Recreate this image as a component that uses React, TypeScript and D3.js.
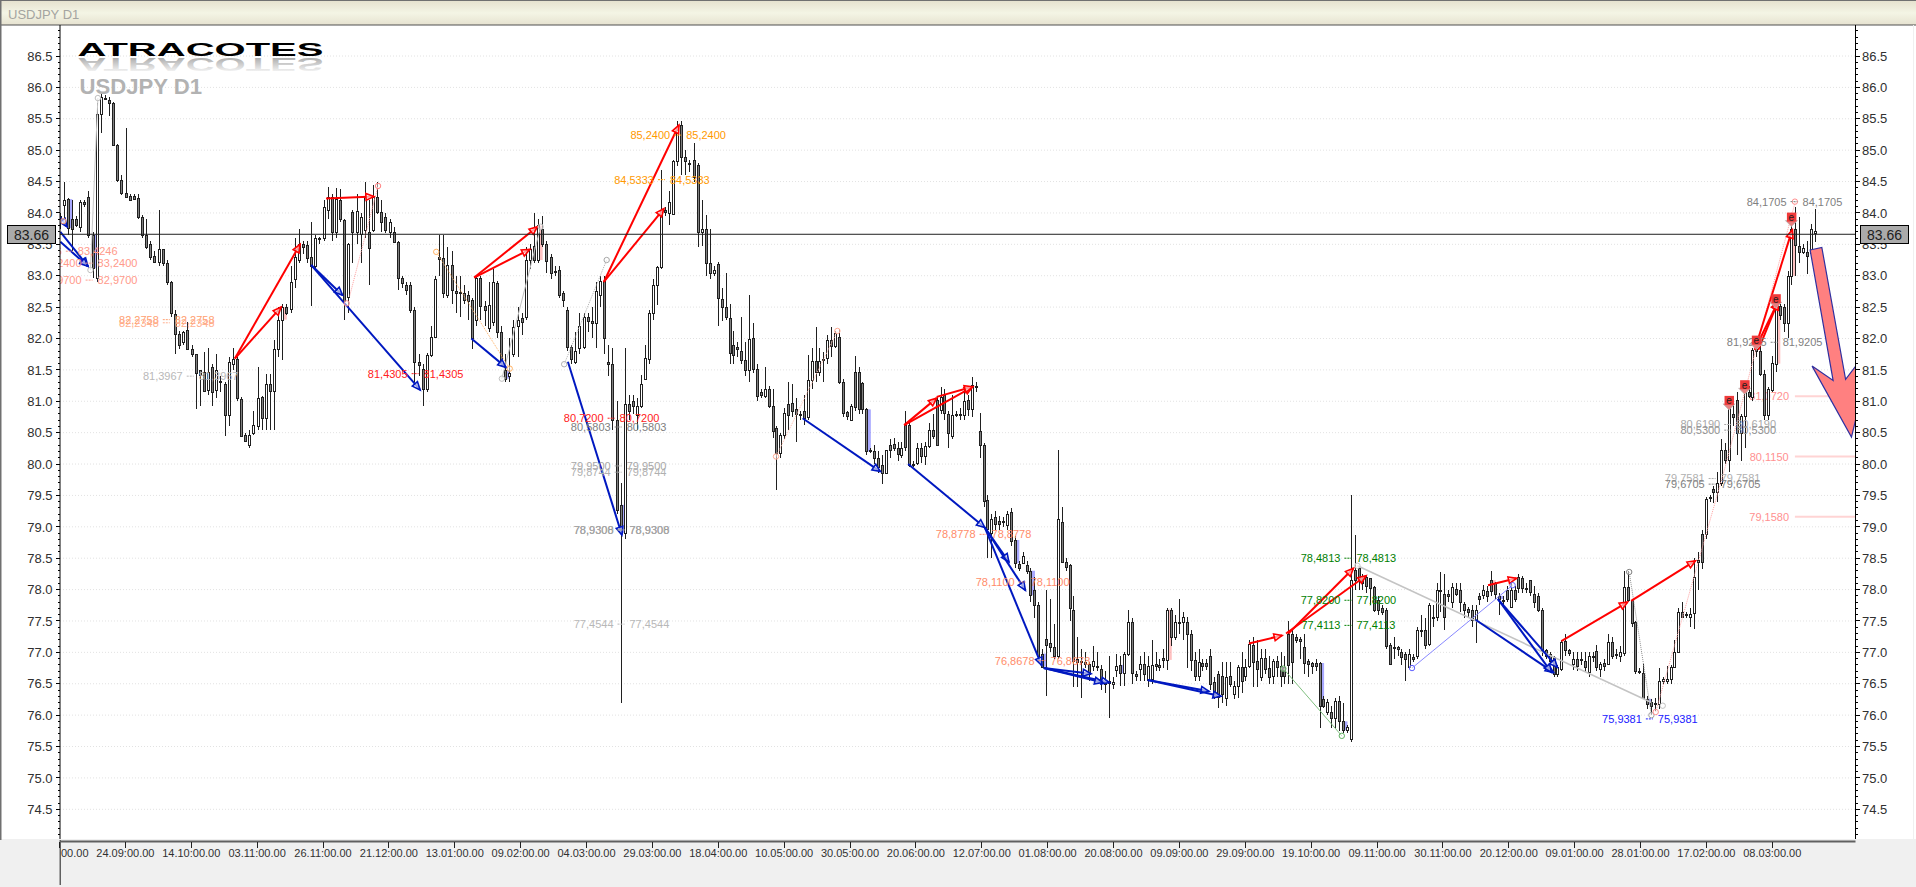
import React from "react";
import * as d3 from "d3";

const tickLabels = ["00.00","24.09:00.00","14.10:00.00","03.11:00.00","26.11:00.00","21.12:00.00","13.01:00.00","09.02:00.00","04.03:00.00","29.03:00.00","18.04:00.00","10.05:00.00","30.05:00.00","20.06:00.00","12.07:00.00","01.08:00.00","20.08:00.00","09.09:00.00","29.09:00.00","19.10:00.00","09.11:00.00","30.11:00.00","20.12:00.00","09.01:00.00","28.01:00.00","17.02:00.00","08.03:00.00"];
const lastPrice = 83.66;

const opens = [
83.95,84.12,84.22,83.9,83.9,83.78,84.17,84.25,83.65,82.97,
85.58,85.83,85.8,85.75,85.09,84.52,84.32,84.27,84.27,84.23,
83.93,83.65,83.5,83.31,83.22,83.42,83.2,82.9,82.39,82.07,
81.95,82.13,81.84,81.75,81.5,81.47,81.18,81.55,81.18,81.33,
81.27,80.78,81.6,81.68,81.03,80.47,80.3,80.49,80.6,81.06,
80.74,81.27,81.17,81.83,82.3,82.5,82.47,82.95,83.25,83.5,
83.49,83.3,83.15,83.6,83.6,84.05,84.25,83.7,84.2,83.88,
82.66,84.02,83.7,83.67,83.73,83.7,83.73,84.26,84.02,83.94,
83.7,83.7,83.54,82.96,82.85,82.85,82.46,81.63,81.52,81.2,
81.74,82.03,83.3,83.28,82.7,83.17,82.75,82.72,82.72,82.69,
82.61,82.3,82.97,82.52,82.16,82.27,82.89,82.11,81.5,81.4,
81.76,82.2,82.32,82.35,83.25,83.47,83.25,83.75,83.5,83.3,
83.08,83.09,82.72,82.46,81.87,81.62,81.85,81.86,82.35,82.28,
82.25,82.7,82.92,81.63,81.6,80.7,79.35,78.9,80.95,81.0,
80.78,80.92,81.36,81.68,82.4,82.85,83.14,84.05,84.0,83.99,
84.82,85.4,84.89,84.8,84.84,84.76,83.7,83.75,83.2,83.05,
83.19,82.63,82.5,82.32,81.9,81.87,81.8,81.66,81.5,82.0,
81.51,81.15,81.08,81.19,80.92,80.57,80.17,80.46,80.96,80.98,
80.87,80.8,80.85,80.75,81.34,81.64,81.46,81.68,81.69,81.97,
81.88,82.02,81.31,80.83,80.7,81.47,81.47,81.29,80.87,80.23,
80.2,80.1,79.98,79.86,80.3,80.32,80.25,80.15,80.62,80.62,
80.0,80.02,80.25,80.13,80.28,80.55,81.02,80.86,81.1,80.8,
80.45,80.8,80.8,80.78,81.02,80.88,81.24,80.52,80.31,79.43,
78.9,79.16,79.1,79.1,79.03,79.23,78.79,78.4,78.43,78.39,
78.3,77.99,77.75,76.98,77.22,77.15,77.08,76.95,79.08,78.44,
78.39,77.68,76.9,76.87,76.84,76.82,76.79,76.79,76.74,76.54,
76.54,76.5,76.72,76.8,76.67,76.98,77.48,76.66,76.74,76.82,
76.56,76.58,76.82,76.8,76.91,76.88,77.68,77.25,77.49,77.48,
77.48,77.3,76.88,76.62,76.83,76.83,76.95,76.53,76.65,76.63,
76.28,76.62,76.34,76.47,76.77,76.63,76.79,77.11,76.87,76.6,
76.91,76.75,76.63,76.86,76.79,76.77,77.3,77.3,77.25,77.22,
77.09,76.86,76.83,76.83,76.83,76.26,76.05,76.05,75.96,76.23,
75.9,75.76,75.62,78.31,78.34,78.17,78.2,78.18,78.04,77.83,
77.7,77.67,77.11,77.09,77.08,77.0,76.97,76.77,76.92,76.95,
77.35,77.35,77.13,77.56,77.56,77.99,77.93,77.93,77.8,78.01,
77.99,77.77,77.69,77.67,77.51,77.9,77.91,77.98,78.15,78.1,
77.9,77.84,77.99,77.72,77.99,78.2,78.18,78.03,78.15,77.93,
77.9,77.67,77.03,76.97,76.92,76.66,76.74,77.18,77.03,76.82,
76.9,76.9,76.87,76.69,76.95,77.02,76.74,76.83,76.81,77.16,
76.98,76.95,76.99,78.04,77.83,77.48,76.71,76.67,76.26,76.21,
76.2,76.18,76.55,76.55,76.58,76.77,77.0,77.64,77.61,77.56,
77.62,78.47,78.89,78.89,79.47,79.6,79.55,79.69,80.23,80.07,
80.8,81.02,80.49,80.77,81.15,81.07,81.83,81.8,81.44,80.78,
81.18,81.6,82.52,82.5,82.24,83.0,83.75,83.47,83.37,83.38,
83.36,83.68];
const highs = [
84.0,84.5,84.24,84.2,83.95,84.2,84.2,84.35,83.7,85.75,
85.9,85.88,85.85,85.77,85.1,84.6,85.35,84.3,84.3,84.3,
83.96,83.9,83.55,83.4,84.05,83.43,83.25,82.92,82.45,82.12,
82.12,82.27,81.9,81.76,81.5,81.78,81.85,81.6,81.75,81.4,
81.3,81.7,81.85,81.72,81.07,80.5,80.55,80.85,81.55,81.08,
81.43,81.43,81.98,82.5,82.55,82.55,83.15,83.6,83.75,83.55,
83.55,83.85,83.65,83.62,84.2,84.42,84.3,84.4,84.38,83.9,
83.52,84.05,84.3,84.0,84.5,84.2,84.45,84.5,84.2,84.0,
83.9,83.78,83.55,83.0,82.9,82.9,82.5,81.75,81.6,81.77,
82.2,83.0,83.65,83.65,83.46,83.4,83.0,83.0,82.85,82.75,
82.65,83.0,83.0,82.6,82.9,83.1,82.92,82.2,81.75,82.0,
82.3,82.5,82.4,83.46,83.5,84.0,83.9,83.95,83.55,83.35,
83.15,83.15,82.75,82.5,81.9,82.1,82.4,82.4,82.4,82.5,
82.9,83.0,83.0,81.9,81.85,81.0,79.7,81.85,81.1,81.1,
81.05,81.42,81.9,82.45,82.95,83.16,84.68,84.1,84.35,84.85,
85.46,85.46,85.0,84.85,85.12,84.8,84.2,83.96,83.75,83.15,
83.22,82.8,83.05,82.55,82.12,81.95,82.35,81.95,82.7,82.25,
81.6,81.2,81.55,81.25,81.2,80.6,80.5,80.9,81.3,81.27,
81.05,80.85,81.1,81.73,81.85,82.18,81.85,81.78,82.05,82.18,
82.12,82.15,81.35,80.85,80.95,81.72,81.55,81.3,80.9,80.25,
80.3,80.2,80.15,80.23,80.4,80.42,80.35,80.35,80.85,80.65,
80.05,80.33,80.33,80.35,80.66,80.8,81.07,81.22,81.2,80.85,
81.1,80.85,80.9,81.2,81.1,81.38,81.3,80.82,80.34,79.5,
79.2,79.25,79.17,79.15,79.25,79.3,78.85,78.45,78.6,78.45,
78.35,78.2,77.8,77.05,78.0,77.85,77.45,80.23,79.32,78.5,
78.41,77.9,77.25,77.05,77.0,76.85,77.1,77.0,76.8,76.7,
76.95,76.6,76.98,76.95,77.0,77.68,77.55,76.7,76.95,77.0,
76.95,77.2,77.0,76.9,77.05,77.7,77.7,77.6,77.85,77.65,
77.57,77.35,77.0,77.05,76.9,76.9,77.05,76.6,76.7,76.85,
76.85,76.85,76.55,76.8,77.0,76.9,77.2,77.25,77.2,77.05,
77.05,76.95,76.9,76.95,77.0,76.95,77.5,77.35,77.3,77.25,
77.3,76.9,76.85,76.9,76.85,76.3,76.25,76.15,76.27,76.3,
76.2,75.85,79.5,78.87,78.38,78.25,78.22,78.19,78.05,77.9,
77.75,77.7,77.15,77.25,77.1,77.05,77.0,77.05,76.98,77.4,
77.6,77.55,77.78,77.75,78.1,78.28,78.25,78.0,78.1,78.1,
78.1,77.8,77.72,77.75,77.75,77.95,78.07,78.05,78.3,78.12,
77.95,77.9,78.05,78.1,78.05,78.25,78.22,78.1,78.15,78.05,
77.95,77.7,77.05,77.0,76.95,76.8,77.2,77.3,77.05,77.0,
77.0,77.0,77.0,77.0,77.0,77.12,76.85,76.9,77.3,77.25,
77.05,77.1,78.3,78.3,77.85,77.5,76.75,76.82,76.3,76.25,
76.27,76.75,76.6,76.78,76.8,77.2,77.7,77.8,77.65,77.7,
78.5,78.6,78.95,79.47,79.5,79.65,79.88,80.4,80.33,80.95,
80.95,81.15,80.8,81.2,81.25,81.85,81.9,81.88,81.5,81.22,
81.72,82.55,82.55,82.55,83.08,84.0,84.1,83.93,83.5,83.55,
83.82,84.07];
const lows = [
83.75,83.9,83.65,83.4,83.78,83.7,84.1,83.6,82.97,82.9,
85.27,85.8,85.55,85.07,84.5,84.28,84.25,84.2,84.2,83.9,
83.6,83.42,83.25,83.2,83.15,83.15,82.85,82.35,81.75,81.83,
81.9,81.82,81.7,80.88,80.92,81.15,81.1,80.93,81.05,81.15,
80.44,80.6,81.5,81.0,80.44,80.35,80.25,80.47,80.55,80.55,
80.55,80.55,80.55,81.7,81.66,82.38,82.4,82.8,83.2,83.35,
83.2,82.52,83.1,83.5,83.55,83.9,83.55,83.6,83.85,82.3,
82.4,83.2,83.5,83.2,83.6,82.85,83.7,83.98,83.7,83.68,
83.6,83.52,82.78,82.8,82.7,82.4,81.3,81.4,80.93,81.15,
81.7,82.0,83.0,82.65,82.65,82.55,82.4,82.35,82.55,82.3,
81.83,82.2,82.3,82.2,82.1,82.2,82.0,81.6,81.3,81.3,
81.7,81.7,82.05,82.3,83.1,83.2,83.2,83.45,83.05,82.95,
83.0,82.65,82.5,81.8,81.6,81.6,81.75,81.83,82.1,82.0,
81.85,82.5,81.75,81.4,80.55,79.2,76.2,78.8,80.7,80.8,
80.55,80.9,81.35,81.6,82.3,82.53,83.1,83.95,83.8,83.98,
84.75,84.6,84.6,84.65,84.5,83.46,83.48,83.0,82.95,83.0,
82.2,82.28,82.3,81.6,81.6,81.7,81.6,81.4,81.3,81.45,
81.0,81.05,81.05,80.9,80.42,79.58,80.1,80.4,80.55,80.75,
80.35,80.7,80.62,80.7,81.2,81.3,81.4,81.3,81.6,81.7,
81.85,81.28,80.75,80.7,80.68,80.85,80.8,80.8,80.15,80.18,
80.0,79.85,79.68,79.85,80.1,80.2,80.05,80.1,80.2,79.95,
79.95,79.98,80.02,79.98,80.25,80.4,80.3,80.8,80.7,80.25,
80.4,80.75,80.7,80.7,80.77,80.75,81.15,80.1,79.32,78.5,
78.5,78.95,78.95,79.0,78.95,78.7,78.35,78.3,78.4,78.25,
77.8,77.55,76.85,76.75,76.3,77.0,76.9,76.9,78.42,78.3,
77.5,76.45,76.45,76.28,76.75,76.55,76.7,76.7,76.4,76.35,
75.95,76.42,76.6,76.47,76.47,76.95,76.5,76.55,76.55,76.55,
76.45,76.5,76.7,76.7,76.75,76.72,77.1,77.2,77.3,77.2,
76.75,76.7,76.55,76.55,76.7,76.72,76.4,76.25,76.12,76.2,
76.15,76.45,76.25,76.28,76.35,76.55,76.75,76.45,76.45,76.55,
76.65,76.5,76.5,76.6,76.45,76.5,76.5,76.5,77.15,76.9,
76.65,76.6,76.65,76.7,75.8,76.12,76.0,75.8,75.8,75.75,
75.72,75.72,75.58,78.0,78.0,78.0,77.95,77.75,77.65,77.6,
77.6,77.05,76.8,76.9,76.95,76.8,76.55,76.75,76.85,76.9,
77.25,77.05,77.1,77.4,77.5,77.65,77.35,77.8,77.7,77.9,
77.65,77.55,77.55,77.4,77.15,77.75,77.85,77.8,77.9,77.85,
77.6,77.7,77.8,77.7,77.8,77.95,77.95,77.95,77.9,77.7,
77.65,76.95,76.9,76.82,76.6,76.6,76.7,76.95,76.95,76.72,
76.7,76.8,76.68,76.6,76.85,76.7,76.6,76.7,76.8,76.9,
76.9,76.85,76.95,77.8,77.4,76.65,76.65,76.25,76.1,76.0,
76.07,76.1,76.5,76.5,76.5,76.75,76.99,77.55,77.55,77.4,
77.37,78.0,78.33,78.8,79.4,79.38,79.4,79.65,80.0,79.87,
80.6,80.15,80.05,80.25,81.05,81.0,81.7,81.4,80.7,80.7,
81.15,81.47,82.3,82.1,82.0,82.85,83.0,83.2,83.35,83.03,
83.35,83.53];
const closes = [
83.85,84.2,83.76,83.75,83.8,84.18,84.14,83.65,83.12,85.58,
85.85,85.82,85.75,85.09,84.53,84.32,84.26,84.2,84.22,83.94,
83.65,83.46,83.3,83.22,83.42,83.2,82.9,82.4,82.07,81.9,
82.1,81.84,81.75,81.45,81.42,81.17,81.47,81.15,81.5,81.3,
80.78,81.63,81.68,81.05,80.45,80.37,80.47,80.62,81.05,80.74,
81.27,81.17,81.83,82.3,82.5,82.41,82.9,83.3,83.5,83.45,
83.28,83.15,83.6,83.58,84.1,84.25,83.7,84.22,83.9,82.6,
83.5,83.7,84.03,83.94,84.26,83.44,84.26,84.02,83.86,83.73,
83.86,83.54,82.96,82.88,82.77,82.45,81.63,81.58,81.2,81.74,
82.03,82.95,83.27,82.72,83.17,82.77,82.72,82.74,82.62,82.6,
82.0,82.97,82.52,82.45,82.53,82.9,82.11,81.65,81.36,81.45,
82.19,82.3,82.27,83.25,83.42,83.25,83.8,83.5,83.23,83.05,
83.06,82.7,82.62,81.86,81.68,81.8,82.2,82.35,82.28,82.25,
82.75,82.92,82.0,81.6,80.7,79.27,78.9,80.95,80.85,80.93,
80.92,81.28,81.69,82.4,82.85,83.14,84.05,84.02,84.17,84.82,
85.32,84.89,84.82,84.78,84.57,83.7,83.75,83.2,83.04,83.09,
82.65,82.5,82.34,81.77,81.74,81.83,81.65,81.5,81.99,81.51,
81.08,81.1,81.2,80.92,80.53,80.17,80.46,80.81,80.78,80.85,
80.79,80.78,80.73,81.34,81.64,81.47,81.64,81.66,81.97,81.88,
82.08,81.31,80.82,80.77,80.92,80.91,80.87,80.88,80.2,80.21,
80.1,79.96,79.86,80.22,80.23,80.26,80.16,80.26,80.27,79.99,
79.98,80.25,80.13,80.28,80.54,80.45,80.3,81.07,80.82,80.49,
80.78,80.79,80.78,81.01,80.88,81.26,81.22,80.31,79.41,78.97,
79.13,79.05,79.05,79.07,79.2,78.78,78.42,78.35,78.53,78.3,
77.91,77.75,76.95,76.77,77.11,77.09,76.95,79.12,78.44,78.36,
77.7,76.87,76.85,76.85,76.81,76.66,76.86,76.77,76.53,76.5,
76.51,76.53,76.78,76.67,76.98,77.48,76.67,76.63,76.82,76.65,
76.79,76.8,76.79,76.77,76.88,77.68,77.25,77.48,77.47,77.57,
77.3,76.88,76.62,76.84,76.79,76.79,76.5,76.34,76.29,76.34,
76.6,76.5,76.47,76.77,76.55,76.77,77.14,76.84,76.74,76.91,
76.74,76.6,76.86,76.76,76.63,76.62,76.8,76.85,77.2,77.18,
76.83,76.81,76.79,76.79,76.15,76.14,76.21,75.96,76.23,75.9,
75.76,75.81,78.15,78.15,78.18,78.1,78.05,78.02,77.68,77.67,
77.65,77.1,76.82,77.07,77.05,76.92,76.9,76.97,76.9,77.35,
77.34,77.11,77.75,77.55,77.99,77.98,77.57,77.9,78.04,77.93,
77.8,77.67,77.64,77.51,77.67,77.85,77.99,77.89,77.98,77.93,
77.85,77.82,77.85,77.99,77.85,78.03,78.03,78.02,77.96,77.8,
77.67,77.03,76.95,76.87,76.66,76.77,77.16,77.03,76.99,76.9,
76.79,76.89,76.76,76.95,76.94,76.76,76.82,76.79,77.16,76.95,
76.96,77.0,78.04,77.83,77.46,76.71,76.69,76.28,76.18,76.15,
76.17,76.55,76.58,76.58,76.77,77.0,77.64,77.57,77.59,77.61,
78.2,78.44,78.44,79.45,79.46,79.55,79.69,80.23,80.07,80.91,
80.75,80.49,80.77,81.15,81.08,81.82,81.8,81.44,80.78,81.2,
81.61,82.52,82.38,82.24,83.0,83.75,83.49,83.37,83.44,83.31,
83.74,83.72];

const blueBars = [2,8,108,136,198,236,240,243,263,314,320,360,398];
const pinkBars = [54,116,275,358,431,435];

// [fromBar, fromPrice, toBar, toPrice]
const redArrows = [
  [42.5,81.68,58.3,83.5],[42.5,81.68,53.7,82.5],[64.6,84.23,76.2,84.26],
  [100.5,82.97,114,83.42],[100.5,82.97,115.8,83.78],[131.9,82.9,146.7,84.07],[131.9,82.9,150.4,85.4],
  [207.7,80.62,216,81.05],[207.7,80.62,225.2,81.23],[216,81.07,225.2,81.23],
  [295.9,77.14,304.4,77.27],[306,77.3,322.7,78.34],[305.4,77.3,325.9,78.22],[357.2,78.07,364.5,78.18],
  [376,77.18,393,77.8],[393.9,77.82,410.4,78.46],
  [425.6,81.82,431.6,82.59],[425.6,81.82,435.2,83.73],[426.5,81.82,431.6,82.59],
];
const blueArrows = [
  [0.2,83.7,6.9,83.15],[0.2,83.54,6.9,83.15],[0.2,83.93,1.8,83.78],
  [61,83.17,68.6,82.69],[61,83.17,87.4,81.18],[99.8,82,108.2,81.54],[123.2,81.63,136.3,78.87],
  [181.7,80.73,201.6,79.88],[208.7,80,228.3,78.99],[228.3,78.99,234.5,78.44],[228.3,78.99,238.7,77.99],[228.3,78.99,242.9,76.79],
  [243.4,76.75,255.5,76.66],[243.4,76.75,260.2,76.52],[243.4,76.75,258.5,76.52],[270,76.56,285.7,76.38],[270,76.56,288.8,76.3],
  [354,77.52,374,76.68],[359.7,77.85,375,76.76],[359.7,77.85,373.5,76.68],
];
// thin swing lines: [color, dash, points...]
const swingLines: [string, string, number[][]][] = [
  ["#c8c8c8","",[[9.3,85.83],[7.5,83.09]]],
  ["#ffa0a0","1 1",[[70.3,82.67],[77.2,84.43]]],
  ["#ffb060","1 1",[[91.3,83.38],[109.1,81.52]]],
  ["#c0c0c0","",[[107.2,81.36],[116.6,83.78]]],
  ["#b0b0b0","1 1",[[122.3,81.59],[132.6,83.25]]],
  ["#ffb8a8","1 1",[[174.9,80.12],[190.6,82.12]]],
  ["#80c080","",[[304.7,76.74],[319.7,75.67]]],
  ["#8888ff","",[[337.7,76.75],[363.5,78.07]]],
  ["#909090","1 1",[[393.4,78.28],[399.1,76.0]]],
  ["#ffa0a0","1 1",[[400.2,76.05],[410,78.2],[418,79.95],[426,81.85],[436,84.18]]],
];
const thickGray = [[323.7,78.38],[399.1,76.2]];
// [bar, price, color]
const rings: [number, number, string][] = [
  [0.9,83.87,"#ffa070"],[9.3,85.83,"#c0c0c0"],[7.5,83.09,"#c0c0c0"],[77.2,84.43,"#ff8080"],[69.6,82.56,"#ff9090"],
  [91.3,83.38,"#ffb060"],[116.6,83.78,"#c0c0c0"],[132.6,83.25,"#a8a8a8"],[107.2,81.36,"#c0c0c0"],[109.1,81.52,"#ffb060"],
  [122.3,81.59,"#b0b0b0"],[174.9,80.12,"#ffa890"],[190.6,82.12,"#ffa890"],[323.7,78.38,"#c8c8c8"],[304.7,76.74,"#60b060"],
  [319.7,75.67,"#60b060"],[337.7,76.75,"#6060ff"],[363.5,78.07,"#6060ff"],[393.4,78.28,"#808080"],[399.1,76.0,"#a0a0a0"],
  [400.2,76.05,"#ff9090"],[402,76.15,"#c0c0c0"],[435.9,84.18,"#ff9090"],
];
// [text, bar, price, color]
const pairLabels: [string, number, number, string][] = [
  ["83,4246",2.5,83.39,"#ff9a8a"],["83,2400",7.3,83.2,"#ff9a8a"],["82,9700",7.3,82.93,"#ff9a8a"],
  ["82,2758",26,82.3,"#ffa070"],["82,2348",26,82.25,"#ffb090"],["81,3967",31.8,81.4,"#b8b8b8"],
  ["81,4305",86.3,81.44,"#ff2020"],["80,7200",133.8,80.73,"#ff2020"],["80,5803",135.5,80.59,"#808080"],
  ["79,9500",135.5,79.97,"#a8a8a8"],["79,8744",135.5,79.87,"#b0b0b0"],["78,9308",136.2,78.95,"#909090"],["78,9300",136.2,78.95,"#a8a8a8"],
  ["77,4544",136.2,77.45,"#b8b8b8"],["85,2400",150.2,85.24,"#ff9900"],["84,5333",146.2,84.53,"#ff9900"],
  ["78,8778",228,78.88,"#ff8c69"],["78,1100",238,78.12,"#ff8c69"],["76,8678",243.1,76.87,"#ff8c69"],
  ["84,1705",435.8,84.18,"#808080"],["81,9205",430.7,81.94,"#808080"],["80,6190",418.8,80.63,"#a8a8a8"],["80,5300",418.8,80.54,"#909090"],
  ["79,7581",414.8,79.77,"#b0b0b0"],["79,6705",414.8,79.68,"#808080"],["78,4813",321.4,78.5,"#008000"],
  ["77,8200",321.4,77.83,"#008000"],["77,4113",321.4,77.43,"#008000"],["75,9381",398.7,75.94,"#2020ff"],
];
const targetLabels: [string, number][] = [["81,0720",81.08],["80,1150",80.12],["79,1580",79.16]];
const signalBars: [number, number][] = [[419,80.99],[423,81.24],[426,81.95],[431,82.61],[435,83.91]];
const bigArrow = [[439.8,83.41],[442.8,83.45],[448.9,81.35],[451.5,81.56],[451.5,80.71],[450.4,80.43],[440.3,81.56],[445.7,81.33]];

const W = 1916, H = 887;
const plot = { l: 60, r: 1855.5, t: 25, b: 839 };
const sans = "'Liberation Sans', Arial, sans-serif";

const x = d3.scaleLinear().domain([0, 136, 160, 303, 441]).range([59.5, 620.7, 717.8, 1276.7, 1814.8]);
const y = d3.scaleLinear().domain([74.5, 86.5]).range([809.3, 56]);
const xTick = d3.scalePoint<string>().domain(tickLabels).range([59.5, 1772.3]);
const majors = d3.range(149, 174).map((v) => v / 2);
const minors = d3.range(741, 870).map((v) => v / 10);

function arrowPath(a: number[]) {
  const [x0, y0, x1, y1] = [x(a[0]), y(a[1]), x(a[2]), y(a[3])];
  const ang = Math.atan2(y1 - y0, x1 - x0);
  const len = 8, wid = 3.4;
  const bx = x1 - len * Math.cos(ang), by = y1 - len * Math.sin(ang);
  const nx = -Math.sin(ang) * wid, ny = Math.cos(ang) * wid;
  return {
    line: `M${x0},${y0}L${x1},${y1}`,
    head: `M${x1},${y1}L${bx + nx},${by + ny}L${bx - nx},${by - ny}Z`,
  };
}

function Arrows({ data, color }: { data: number[][]; color: string }) {
  return (
    <g>
      {data.map((a, i) => {
        const p = arrowPath(a);
        return (
          <g key={i}>
            <path d={p.line} stroke={color} strokeWidth={2} fill="none" />
            <path d={p.head} stroke={color} strokeWidth={1.6} fill="#ffffff" fillOpacity={0.6} />
          </g>
        );
      })}
    </g>
  );
}

export default function App() {
  const line = d3.line<number[]>().x((d) => x(d[0])).y((d) => y(d[1]));
  return (
    <svg width={W} height={H} viewBox={`0 0 ${W} ${H}`} style={{ position: "fixed", left: 0, top: 0, background: "#fff" }} fontFamily={sans}>
      <defs>
        <linearGradient id="bar" x1="0" y1="0" x2="0" y2="1">
          <stop offset="0" stopColor="#e6e2cf" />
          <stop offset="0.5" stopColor="#f4f5e5" />
          <stop offset="1" stopColor="#e6e2d0" />
        </linearGradient>
        <linearGradient id="fade" x1="0" y1="0" x2="0" y2="1">
          <stop offset="0.1" stopColor="#f4f4f4" />
          <stop offset="0.85" stopColor="#a8a8a8" />
        </linearGradient>
        <clipPath id="plotClip"><rect x={plot.l} y={plot.t} width={plot.r - plot.l} height={plot.b - plot.t} /></clipPath>
      </defs>

      <rect x={0} y={0} width={W} height={H} fill="#ffffff" />
      <rect x={0} y={839} width={W} height={48} fill="#f0f0f0" />
      <rect x={0} y={1} width={W} height={24} fill="url(#bar)" />
      <line x1={0} x2={W} y1={0.5} y2={0.5} stroke="#707070" />
      <line x1={0} x2={W} y1={25} y2={25} stroke="#505050" />
      <rect x={0} y={0} width={1.5} height={840} fill="#707070" />
      <rect x={1913} y={25} width={1} height={814} fill="#f0f0f0" />
      <text x={8} y={18.5} fontSize={13} fill="#a4a4a0">USDJPY D1</text>

      {majors.map((v) => (
        <line key={v} x1={plot.l} x2={plot.r} y1={y(v)} y2={y(v)} stroke="#e2e2e2" strokeDasharray="1 2" />
      ))}

      <text x={77.5} y={55.7} fontSize={17.7} fontWeight="bold" textLength={246} lengthAdjust="spacingAndGlyphs" fill="#000">ATRACOTES</text>
      <text transform="translate(0,113.5) scale(1,-1)" x={77.5} y={55.7} fontSize={17.7} fontWeight="bold" textLength={246} lengthAdjust="spacingAndGlyphs" fill="url(#fade)">ATRACOTES</text>
      <text x={79.5} y={94.3} fontSize={22} fontWeight="bold" fill="#b2b2b2" textLength={122.5} lengthAdjust="spacingAndGlyphs">USDJPY D1</text>

      <g clipPath="url(#plotClip)">
        {/* target lines */}
        {targetLabels.map(([t, p]) => (
          <g key={t}>
            <line x1={x(435.9)} x2={plot.r} y1={y(p)} y2={y(p)} stroke="#ffd4d4" strokeWidth={2} />
            <text x={x(429.3)} y={y(p) + 4} fontSize={11} textAnchor="middle" fill="#ff9090">{t}</text>
          </g>
        ))}

        {/* highlights */}
        {blueBars.map((b) => (
          <rect key={b} x={x(b)} width={4.5} y={y(Math.max(opens[b], closes[b]))} height={Math.abs(y(opens[b]) - y(closes[b]))} fill="#6060ff" opacity={0.55} />
        ))}
        {pinkBars.map((b) => (
          <rect key={b} x={x(b)} width={4.5} y={y(Math.max(opens[b], closes[b]))} height={Math.abs(y(opens[b]) - y(closes[b]))} fill="#ff9090" opacity={0.55} />
        ))}

        {/* candles */}
        <g shapeRendering="crispEdges">
          {opens.map((o, i) => {
            const c = closes[i];
            const cx = Math.round(x(i)) + 0.5;
            const top = Math.round(y(Math.max(o, c))) + 0.5;
            const bot = Math.round(y(Math.min(o, c))) + 0.5;
            return (
              <g key={i}>
                <line x1={cx} x2={cx} y1={y(highs[i])} y2={y(lows[i])} stroke="#202020" />
                <rect x={cx - 1} y={top} width={2} height={Math.max(bot - top, 1)} fill={c >= o ? "#ffffff" : "#808080"} stroke="#202020" />
              </g>
            );
          })}
        </g>

        {/* swing lines */}
        {swingLines.map(([col, dash, pts], i) => (
          <path key={i} d={line(pts) as string} stroke={col} strokeDasharray={dash || undefined} fill="none" />
        ))}
        <path d={line(thickGray) as string} stroke="#c4c4c4" strokeWidth={1.6} fill="none" />

        <Arrows data={blueArrows} color="#0018c0" />
        <Arrows data={redArrows} color="#ff0000" />

        {rings.map(([b, p, col], i) => (
          <circle key={i} cx={x(b)} cy={y(p)} r={2.7} fill="#ffffff" fillOpacity={0.5} stroke={col} />
        ))}

        {/* price labels */}
        {pairLabels.map(([t, b, p, col], i) => (
          <g key={i} fill={col} fontSize={11}>
            <text x={x(b) - 8} y={y(p) + 4} textAnchor="end">{t}</text>
            <line x1={x(b) - 4} x2={x(b) + 3} y1={y(p)} y2={y(p)} stroke={col} strokeDasharray="2 1" />
            <text x={x(b) + 8} y={y(p) + 4} textAnchor="start">{t}</text>
          </g>
        ))}

        {/* signals */}
        {signalBars.map(([b, p], i) => (
          <g key={i}>
            <path d={`M${x(b) - 6},${y(p) + 2}L${x(b) + 6},${y(p) + 2}L${x(b)},${y(p) + 8}Z`} fill="#e88080" stroke="#b8b8b8" strokeWidth={0.7} />
            <rect x={x(b) - 4.5} y={y(p) - 6} width={9.5} height={9} fill="#f03a3a" />
            <text x={x(b)} y={y(p) + 2.5} fontSize={10} textAnchor="middle" fill="#202020">e</text>
          </g>
        ))}

        <path d={(line(bigArrow) as string) + "Z"} fill="#ff8080" stroke="#3030a0" strokeWidth={1.2} />
      </g>

      {/* last price */}
      <line x1={plot.l} x2={plot.r} y1={y(lastPrice)} y2={y(lastPrice)} stroke="#202020" strokeWidth={1} />

      {/* axes */}
      <line x1={plot.l} x2={plot.l} y1={plot.t} y2={plot.b} stroke="#000" />
      <line x1={plot.r} x2={plot.r} y1={plot.t} y2={plot.b} stroke="#000" />
      <g shapeRendering="crispEdges" stroke="#000">
        {minors.map((v) => (
          <g key={v}>
            <line x1={plot.l - 2} x2={plot.l} y1={y(v)} y2={y(v)} />
            <line x1={plot.r} x2={plot.r + 2} y1={y(v)} y2={y(v)} />
          </g>
        ))}
        {majors.map((v) => (
          <g key={v}>
            <line x1={plot.l - 4} x2={plot.l} y1={y(v)} y2={y(v)} />
            <line x1={plot.r} x2={plot.r + 4} y1={y(v)} y2={y(v)} />
          </g>
        ))}
      </g>
      <g fontSize={13} fill="#303030">
        {majors.map((v) => (
          <g key={v}>
            <text x={52.5} y={y(v) + 4.7} textAnchor="end">{v.toFixed(1)}</text>
            <text x={1862} y={y(v) + 4.7}>{v.toFixed(1)}</text>
          </g>
        ))}
      </g>

      {/* price boxes */}
      <rect x={7.5} y={225.5} width={48} height={18} fill="#aaaaaa" stroke="#000" />
      <text x={31.5} y={239.5} fontSize={14} textAnchor="middle" fill="#202020">{lastPrice.toFixed(2)}</text>
      <rect x={1860.5} y={225.5} width={48} height={18} fill="#aaaaaa" stroke="#000" />
      <text x={1884.5} y={239.5} fontSize={14} textAnchor="middle" fill="#202020">{lastPrice.toFixed(2)}</text>

      {/* time axis */}
      <rect x={plot.l} y={840.5} width={plot.r - plot.l} height={2} fill="#606060" />
      <rect x={plot.l - 0.5} y={840} width={1.5} height={45} fill="#606060" />
      {tickLabels.map((t, i) => {
        const tx = xTick(t) as number;
        return (
          <g key={t}>
            <line x1={tx} x2={tx} y1={842} y2={848} stroke="#202020" shapeRendering="crispEdges" />
            <text x={i === 0 ? 61 : tx} y={856.5} fontSize={11} textAnchor={i === 0 ? "start" : "middle"} fill="#303030">{t}</text>
          </g>
        );
      })}
    </svg>
  );
}
